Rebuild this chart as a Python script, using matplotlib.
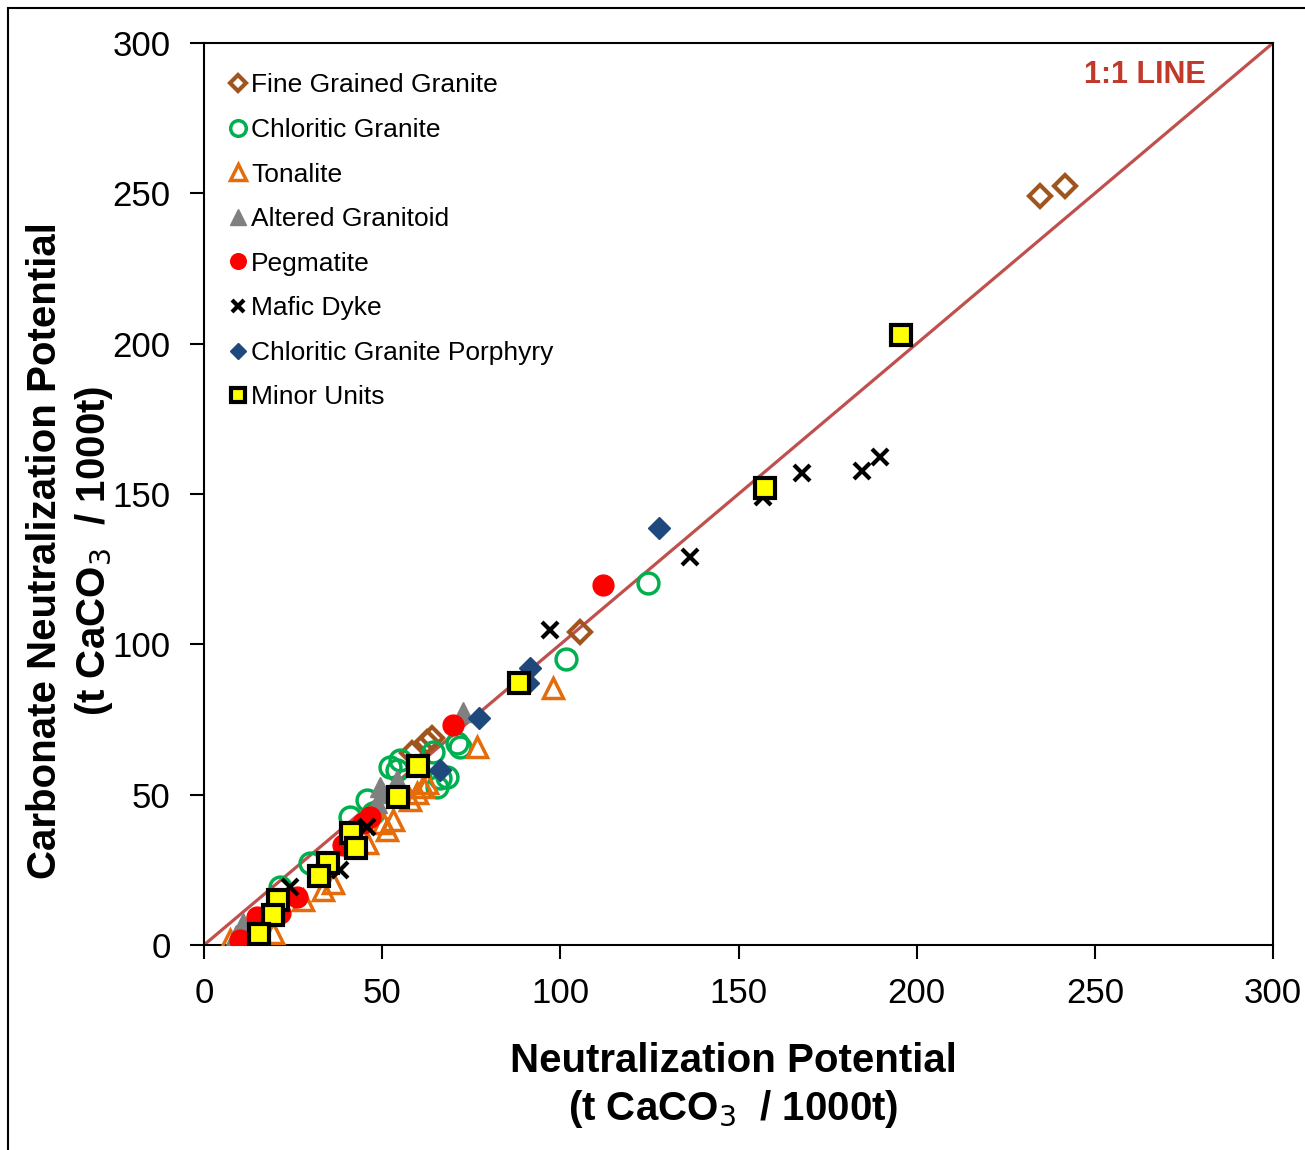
import numpy as np
import matplotlib
matplotlib.use("Agg")
import matplotlib.pyplot as plt
from matplotlib.patches import Rectangle

# data (NP, CaNP)
fgg_x = [234.6, 241.6, 105.5, 62.6, 64.0, 58.5]
fgg_y = [249.1, 252.4, 104.1, 67.5, 68.8, 64.0]

cg_x = [124.6, 101.6, 64.3, 71.8, 68.2, 54.2, 66.2, 41.0, 45.7, 52.2, 65.4, 47.4, 29.7, 21.3, 55.0, 71.0]
cg_y = [120.4, 95.1, 64.2, 65.8, 55.9, 58.2, 55.5, 42.6, 48.2, 59.2, 52.5, 43.9, 27.3, 19.3, 61.5, 67.2]

ton_x = [98.0, 76.6, 7.3, 19.4, 33.4, 27.8, 36.2, 51.4, 53.0, 59.8, 62.6, 61.5, 57.8, 50.2, 45.7]
ton_y = [85.5, 65.8, 1.7, 4.0, 18.3, 15.0, 20.6, 38.2, 41.6, 50.5, 53.9, 52.5, 48.2, 40.6, 34.0]

ag_x = [72.7, 50.2, 55.0, 48.6, 49.4, 54.2, 10.9, 9.0]
ag_y = [77.5, 50.5, 52.5, 47.2, 52.5, 54.9, 7.3, 3.3]

peg_x = [112.0, 69.9, 44.6, 41.0, 46.6, 10.1, 14.9, 26.1, 21.3, 39.0]
peg_y = [119.7, 73.2, 40.6, 34.9, 42.6, 1.7, 9.3, 16.0, 10.6, 33.3]

md_x = [97.1, 136.4, 156.9, 167.8, 184.7, 189.7, 45.7, 38.2, 24.1]
md_y = [104.8, 129.0, 149.0, 157.0, 157.6, 162.3, 39.2, 24.9, 19.3]

cgp_x = [127.7, 91.5, 90.9, 77.2, 66.2]
cgp_y = [138.7, 92.1, 87.1, 75.5, 58.2]

mu_x = [195.6, 157.5, 88.4, 60.1, 54.4, 41.3, 42.7, 34.8, 32.3, 20.8, 19.4, 15.4]
mu_y = [202.9, 152.0, 87.1, 59.5, 49.2, 37.2, 32.3, 27.3, 22.9, 15.0, 10.0, 3.7]

line_xy = [0, 300]

plt.rcParams["font.family"] = ["Liberation Sans", "DejaVu Sans"]

fig = plt.figure(figsize=(13.05, 11.5), dpi=100)
ax = fig.add_axes([204 / 1305, 1 - 945 / 1150, (1273 - 204) / 1305, (945 - 43) / 1150])

# outer chart border
fig.patches.append(Rectangle((8 / 1305, -0.05), 1.2, 1 - 8 / 1150 + 0.05, transform=fig.transFigure,
                             fill=False, edgecolor="black", lw=1.5))

ax.plot(line_xy, line_xy, color="#C0504D", lw=2.3, zorder=1)

ax.plot(fgg_x, fgg_y, ls="None", marker="D", ms=11.5, mfc="none", mec="#A0541E", mew=3, label="Fine Grained Granite", zorder=3)
ax.plot(cg_x, cg_y, ls="None", marker="o", ms=15, mfc="none", mec="#00B050", mew=2.5, label="Chloritic Granite", zorder=3)
ax.plot(ton_x, ton_y, ls="None", marker="^", ms=15, mfc="none", mec="#E46C0A", mew=2.5, label="Tonalite", zorder=3)
ax.plot(ag_x, ag_y, ls="None", marker="^", ms=15, mfc="#808080", mec="#808080", label="Altered Granitoid", zorder=3)
ax.plot(peg_x, peg_y, ls="None", marker="o", ms=15, mfc="#FF0000", mec="#FF0000", label="Pegmatite", zorder=3)
ax.plot(md_x, md_y, ls="None", marker="x", ms=11, mec="black", mew=3, label="Mafic Dyke", zorder=4)
ax.plot(cgp_x, cgp_y, ls="None", marker="D", ms=11.5, mfc="#1F497D", mec="#1F497D", label="Chloritic Granite Porphyry", zorder=4)
ax.plot(mu_x, mu_y, ls="None", marker="s", ms=14, mfc="#FFFF00", mec="black", mew=3, label="Minor Units", zorder=5)

ax.set_xlim(0, 300)
ax.set_ylim(0, 300)
ax.set_xticks(np.arange(0, 301, 50))
ax.set_yticks(np.arange(0, 301, 50))
ax.tick_params(direction="out", length=10, width=1.5, labelsize=25)
ax.tick_params(axis="x", pad=13)
ax.tick_params(axis="y", pad=14)
for s in ax.spines.values():
    s.set_linewidth(1.5)

ax.set_xlabel("Neutralization Potential\n(t CaCO$_3$  / 1000t)", fontsize=29, fontweight="bold", linespacing=1.27)
ax.set_ylabel("Carbonate Neutralization Potential\n(t CaCO$_3$  / 1000t)", fontsize=29, fontweight="bold", linespacing=1.3)
ax.xaxis.set_label_coords(0.495, -0.107)
ax.yaxis.set_label_coords(-0.083, 0.437)

ax.text(0.880, 0.9645, "1:1 LINE", transform=ax.transAxes, color="#C0392B", fontsize=22,
        fontweight="bold", ha="center", va="center")

leg = ax.legend(loc="upper left", bbox_to_anchor=(-0.004, 1.0), frameon=False, fontsize=19,
                handlelength=0.6, handletextpad=0.2, labelspacing=0.78, borderaxespad=0.2,
                markerscale=0.75, borderpad=0.95)

plt.savefig("out.png", dpi=100)
